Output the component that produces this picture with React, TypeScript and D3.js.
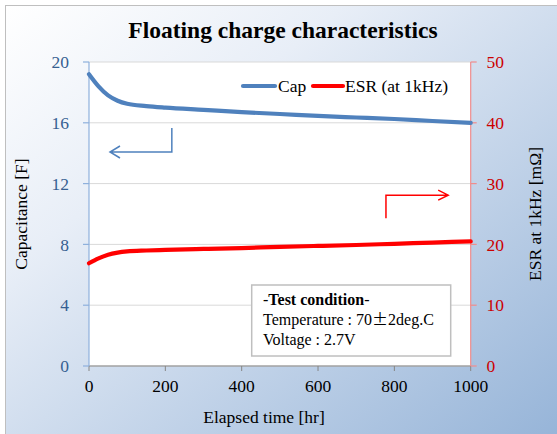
import React from "react";
import * as d3 from "d3";

const hours = [0, 25, 50, 75, 100, 150, 200, 300, 400, 500, 600, 700, 800, 900, 1000];
const capValues = [19.2, 18.4, 17.8, 17.45, 17.25, 17.1, 17.0, 16.85, 16.7, 16.58, 16.45, 16.35, 16.25, 16.12, 16.0];
const esrValues = [16.9, 17.7, 18.3, 18.65, 18.85, 19.0, 19.1, 19.25, 19.4, 19.6, 19.75, 19.9, 20.1, 20.3, 20.5];
const xTicks = [0, 200, 400, 600, 800, 1000];
const capTicks = [0, 4, 8, 12, 16, 20];
const esrTicks = [0, 10, 20, 30, 40, 50];
const title = "Floating charge characteristics";
const seriesNames = ["Cap", "ESR (at 1kHz)"];
const conditionLines = ["-Test condition-", "Temperature : 70", "±", "2deg.C", "Voltage : 2.7V"];
// annotation arrows in data units
const capArrow = { x0: 217, y0: 15.66, y1: 14.08, x1: 55 };
const esrArrow = { x0: 778, y0: 24.3, y1: 28.1, x1: 941 };

const W = 557, H = 434;
const L = 89, R = 470.7, T = 62, B = 366;
const FONT = "Liberation Serif";
const CAP_COLOR = "#4f81bd";
const ESR_COLOR = "#ff0000";

export default function App() {
  const x = d3.scaleLinear().domain([0, 1000]).range([L, R]);
  const yCap = d3.scaleLinear().domain([0, 20]).range([B, T]);
  const yEsr = d3.scaleLinear().domain([0, 50]).range([B, T]);

  const capLine = d3.line<number>().x((_, i) => x(hours[i])).y((d) => yCap(d)).curve(d3.curveMonotoneX);
  const esrLine = d3.line<number>().x((_, i) => x(hours[i])).y((d) => yEsr(d)).curve(d3.curveMonotoneX);

  const ca = capArrow, ea = esrArrow;
  const bx1 = x(ca.x1), by1 = yCap(ca.y1);
  const rx1 = x(ea.x1), ry1 = yEsr(ea.y1);
  const ts = { fontFamily: FONT };

  return (
    <svg width={W} height={H} style={{ position: "absolute", left: 0, top: 0, fontFamily: FONT }}>
      <defs>
        <linearGradient id="bg" x1="0" y1="0" x2="1" y2="1">
          <stop offset="0" stopColor="#ffffff" />
          <stop offset="0.3" stopColor="#e8eef7" />
          <stop offset="1" stopColor="#93b2d7" />
        </linearGradient>
      </defs>
      <rect x={0} y={0} width={W} height={H} fill="#ffffff" />
      <rect x={5.5} y={5.5} width={W + 10} height={H + 10} fill="url(#bg)" stroke="#bfbfbf" strokeWidth={1} />
      <text style={ts} x={283} y={38} textAnchor="middle" fontSize={23.5} fontWeight="bold" fill="#000">{title}</text>

      {/* plot area */}
      <rect x={L} y={T} width={R - L} height={B - T} fill="#ffffff" />
      {capTicks.map((t) => (
        <line key={"g" + t} x1={L} x2={R} y1={yCap(t)} y2={yCap(t)} stroke="#d9d9d9" strokeWidth={1} />
      ))}

      {/* x axis */}
      <line x1={L} x2={R} y1={B} y2={B} stroke="#868686" strokeWidth={1} />
      {xTicks.map((t) => (
        <g key={"x" + t}>
          <line x1={x(t)} x2={x(t)} y1={B} y2={B + 5} stroke="#868686" />
          <text style={ts} x={x(t)} y={392} textAnchor="middle" fontSize={17.5} fill="#000">{t}</text>
        </g>
      ))}
      <text style={ts} x={264} y={423} textAnchor="middle" fontSize={17.5} fill="#000">Elapsed time [hr]</text>

      {/* left axis */}
      <line x1={L} x2={L} y1={T} y2={B} stroke="#8eb0dc" strokeWidth={1.2} />
      {capTicks.map((t) => (
        <g key={"l" + t}>
          <line x1={L - 6} x2={L} y1={yCap(t)} y2={yCap(t)} stroke="#8eb0dc" strokeWidth={1.2} />
          <text style={ts} x={69} y={yCap(t)} dy="0.35em" textAnchor="end" fontSize={17.5} fill="#365f91">{t}</text>
        </g>
      ))}
      <text style={ts} transform={`translate(27,214) rotate(-90)`} textAnchor="middle" fontSize={17.5} fill="#000">Capacitance [F]</text>

      {/* right axis */}
      <line x1={R} x2={R} y1={T} y2={B} stroke="#f08c8c" strokeWidth={1.2} />
      {esrTicks.map((t) => (
        <g key={"r" + t}>
          <line x1={R} x2={R + 6} y1={yEsr(t)} y2={yEsr(t)} stroke="#f08c8c" strokeWidth={1.2} />
          <text style={ts} x={486.5} y={yEsr(t)} dy="0.35em" textAnchor="start" fontSize={17.5} fill="#cc0000">{t}</text>
        </g>
      ))}
      <text style={ts} transform={`translate(541,214) rotate(-90)`} textAnchor="middle" fontSize={17.5} fill="#000">ESR at 1kHz [mΩ]</text>

      {/* series */}
      <path d={capLine(capValues) || ""} fill="none" stroke={CAP_COLOR} strokeWidth={4.2} strokeLinecap="round" />
      <path d={esrLine(esrValues) || ""} fill="none" stroke={ESR_COLOR} strokeWidth={4.2} strokeLinecap="round" />

      {/* legend */}
      <line x1={243} x2={275} y1={86} y2={86} stroke={CAP_COLOR} strokeWidth={4.2} strokeLinecap="round" />
      <text style={ts} x={278} y={92} fontSize={17.5} fill="#000">{seriesNames[0]}</text>
      <line x1={313} x2={343} y1={86} y2={86} stroke={ESR_COLOR} strokeWidth={4.2} strokeLinecap="round" />
      <text style={ts} x={345} y={92} fontSize={17.5} fill="#000">{seriesNames[1]}</text>

      {/* arrows */}
      <path d={`M${x(ca.x0)},${yCap(ca.y0)} V${by1} H${bx1} M${bx1 + 10},${by1 - 6} L${bx1},${by1} L${bx1 + 10},${by1 + 6}`}
        fill="none" stroke={CAP_COLOR} strokeWidth={1.5} />
      <path d={`M${x(ea.x0)},${yEsr(ea.y0)} V${ry1} H${rx1} M${rx1 - 10},${ry1 - 5} L${rx1},${ry1} L${rx1 - 10},${ry1 + 5}`}
        fill="none" stroke={ESR_COLOR} strokeWidth={1.5} />

      {/* condition box */}
      <rect x={251.7} y={285} width={199} height={71} fill="#ffffff" stroke="#bfbfbf" strokeWidth={1.5} />
      <text style={ts} x={263} y={305} fontSize={16} fill="#000">
        -<tspan fontWeight="bold">{conditionLines[0].slice(1, -1)}</tspan>-
      </text>
      <text style={ts} x={263} y={325} fontSize={16} fill="#000">
        {conditionLines[1]}
        <tspan style={{ fontFamily: "Noto Sans CJK JP" }}>{conditionLines[2]}</tspan>
        {conditionLines[3]}
      </text>
      <text style={ts} x={263} y={345} fontSize={16} fill="#000">{conditionLines[4]}</text>
    </svg>
  );
}
